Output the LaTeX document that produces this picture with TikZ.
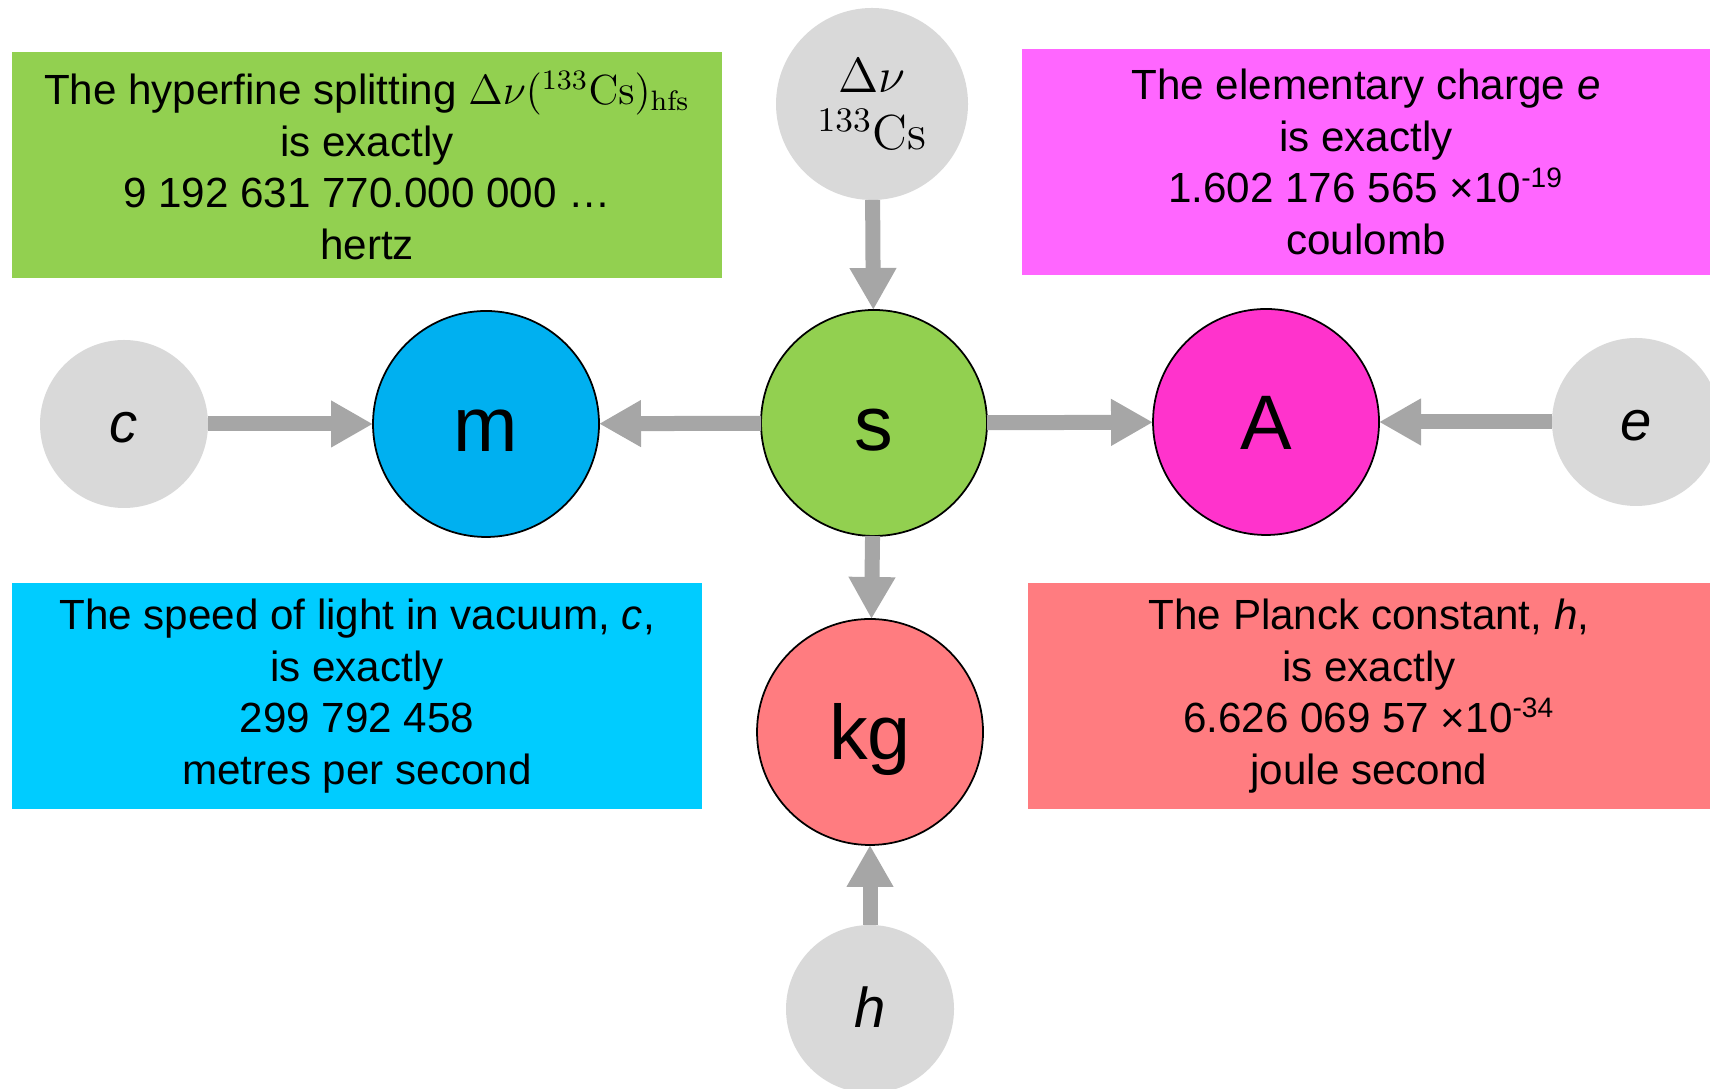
\RequirePackage{fix-cm}
\documentclass[tikz,border=0pt]{standalone}
\usepackage[no-math]{fontspec}
\setmainfont{Liberation Sans}
\usepackage{tikz}
\usetikzlibrary{arrows.meta}
\definecolor{SIGreen}{HTML}{92D050}
\definecolor{SIMagenta}{HTML}{FF66FF}
\definecolor{SIPink}{HTML}{FF33CC}
\definecolor{SICyan}{HTML}{00CCFF}
\definecolor{SIBlue}{HTML}{00B0F0}
\definecolor{SISalmon}{HTML}{FF7C80}
\definecolor{SIGrey}{HTML}{D9D9D9}
\definecolor{SIArrow}{HTML}{A6A6A6}

\begin{document}
\begin{tikzpicture}[x=1cm,y=1cm,
  constbox/.style={rectangle,inner sep=0pt,outer sep=0pt,minimum height=2.26cm,align=center,font=\fontsize{12}{14.7}\selectfont},
  unit/.style={circle,draw=black,line width=0.5pt,minimum size=2.26cm,inner sep=0pt,outer sep=0pt,text height=15.4pt,text depth=0pt,font=\fontsize{22}{26}\selectfont},
  defconst/.style={circle,fill=SIGrey,minimum size=1.68cm,inner sep=0pt,outer sep=0pt,text height=10.6pt,text depth=0pt,font=\fontsize{16}{19}\selectfont\itshape},
  link/.style={SIArrow,line width=0.15cm,-{Triangle[width=0.44cm,length=0.42cm]}}]
\path[use as bounding box] (0,0) rectangle (17.10,10.89);
\clip (0,0) rectangle (17.10,10.89);
% definitions
\node[constbox,fill=SIGreen,minimum width=7.10cm] (hfsbox) at (3.67,9.235) {The hyperfine splitting $\Delta\nu(^{133}\mathrm{Cs})_{\mathrm{hfs}}$\\is exactly\\9 192 631 770.000 000 …\\hertz};
\node[constbox,fill=SIMagenta,minimum width=6.88cm] (ebox) at (13.66,9.27) {The elementary charge \textit{e}\\is exactly\\1.602 176 565 ×10\textsuperscript{-19}\\coulomb};
\node[constbox,fill=SICyan,minimum width=6.90cm] (cbox) at (3.57,3.93) {The speed of light in vacuum, \textit{c},\\is exactly\\299 792 458\\metres per second};
\node[constbox,fill=SISalmon,minimum width=6.82cm] (hbox) at (13.69,3.93) {The Planck constant, \textit{h},\\is exactly\\6.626 069 57 ×10\textsuperscript{-34}\\joule second};
% base units
\node[unit,fill=SIGreen] (s) at (8.74,6.66) {s};
\node[unit,fill=SIBlue] (m) at (4.86,6.65) {m};
\node[unit,fill=SIPink] (A) at (12.66,6.67) {A};
\node[unit,fill=SISalmon] (kg) at (8.70,3.57) {kg};
% constants
\node[defconst,minimum size=1.92cm,align=center,text height=,text depth=,font=\fontsize{14}{16.2}\selectfont] (dnu) at (8.72,9.85) {$\Delta\nu$\\$^{133}\mathrm{Cs}$};
\node[defconst] (c) at (1.24,6.65) {c};
\node[defconst] (e) at (16.36,6.67) {e};
\node[defconst] (h) at (8.70,0.80) {h};
\draw[link] (dnu) -- (s);
\draw[link] (s) -- (m);
\draw[link] (s) -- (A);
\draw[link] (s) -- (kg);
\draw[link] (c) -- (m);
\draw[link] (e) -- (A);
\draw[link] (h) -- (kg);
\end{tikzpicture}
\end{document}
